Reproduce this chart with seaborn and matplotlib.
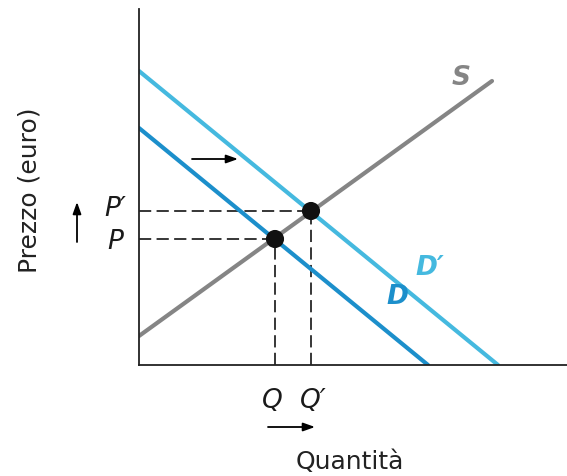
import pandas as pd
import seaborn as sns
import matplotlib.pyplot as plt

# curve end points (quantity, price)
s_q = [0.0, 35.3]
s_p = [2.9, 28.4]
d_q = [0.0, 28.9]
d_p = [23.7, 0.0]
d2_q = [0.0, 35.9]
d2_p = [29.4, 0.0]

# equilibria
eq_q = [13.6, 17.2]
eq_p = [12.6, 15.4]
eq_names = ['Q', 'Q\u2032']
price_names = ['P', 'P\u2032']

curves = pd.DataFrame({
    'Quantita': s_q + d_q + d2_q,
    'Prezzo': s_p + d_p + d2_p,
    'curva': ['S'] * 2 + ['D'] * 2 + ["D'"] * 2,
})
eq = pd.DataFrame({'Quantita': eq_q, 'Prezzo': eq_p})

colors = {'S': '#858585', 'D': '#1c8fcb', "D'": '#45b9df'}
font = ['DejaVu Sans']

sns.set_style('white')
fig = plt.figure(figsize=(5.67, 4.77), dpi=100)
ax = fig.add_axes([139 / 567, 111 / 477, 428 / 567, 356 / 477])

# dashed guide lines first, under the curves
for q, p in zip(eq_q, eq_p):
    ax.plot([0, q], [p, p], color='black', lw=1.1, ls=(0, (8, 3.5)))
    ax.plot([q, q], [0, p], color='black', lw=1.1, ls=(0, (8, 3.5)))

sns.lineplot(data=curves, x='Quantita', y='Prezzo', hue='curva',
             palette=colors, linewidth=3, legend=False, ax=ax, estimator=None,
             sort=False)
sns.scatterplot(data=eq, x='Quantita', y='Prezzo', color='#111111', s=170,
                edgecolor='none', zorder=5, ax=ax)

ax.set_xlim(0, 42.8)
ax.set_ylim(0, 35.6)
ax.set_xticks([])
ax.set_yticks([])
ax.set_xlabel('')
ax.set_ylabel('')
sns.despine(ax=ax)
for side in ['left', 'bottom']:
    ax.spines[side].set_color('#222222')
    ax.spines[side].set_linewidth(1.3)

# curve labels
lab = dict(fontsize=19, fontstyle='italic', fontweight='bold', family=font,
           ha='center', va='center')
ax.text(32.2, 28.8, 'S', color=colors['S'], **lab)
ax.text(29.1, 9.8, 'D\u2032', color=colors["D'"], **lab)
ax.text(25.8, 6.9, 'D', color=colors['D'], **lab)

# price / quantity labels
tl = dict(fontsize=19, fontstyle='italic', family=font, va='center',
          color='#1a1a1a', clip_on=False)
ax.text(-1.3, eq_p[1] + 0.3, price_names[1], ha='right', **tl)
ax.text(-1.6, eq_p[0] - 0.2, price_names[0], ha='right', **tl)
ax.text(eq_q[0] - 0.3, -3.5, eq_names[0], ha='center', **tl)
ax.text(eq_q[1] + 0.2, -3.5, eq_names[1], ha='center', **tl)

arrow = dict(arrowstyle='-|>,head_length=0.7,head_width=0.25', color='black',
             lw=1.3, shrinkA=0, shrinkB=0)
ax.annotate('', xy=(9.9, 20.6), xytext=(5.3, 20.6), arrowprops=arrow)
ax.annotate('', xy=(-6.2, 16.3), xytext=(-6.2, 12.3), arrowprops=arrow,
            annotation_clip=False)
ax.annotate('', xy=(17.6, -6.2), xytext=(12.9, -6.2), arrowprops=arrow,
            annotation_clip=False)

ax.text(21.1, -9.6, 'Quantità', fontsize=18, family=font, ha='center',
        va='center', color='#222222', clip_on=False)
ax.text(-10.9, 17.6, 'Prezzo (euro)', fontsize=18, family=font,
        rotation=90, ha='center', va='center', color='#222222', clip_on=False)

fig.savefig('out.png', dpi=100)
